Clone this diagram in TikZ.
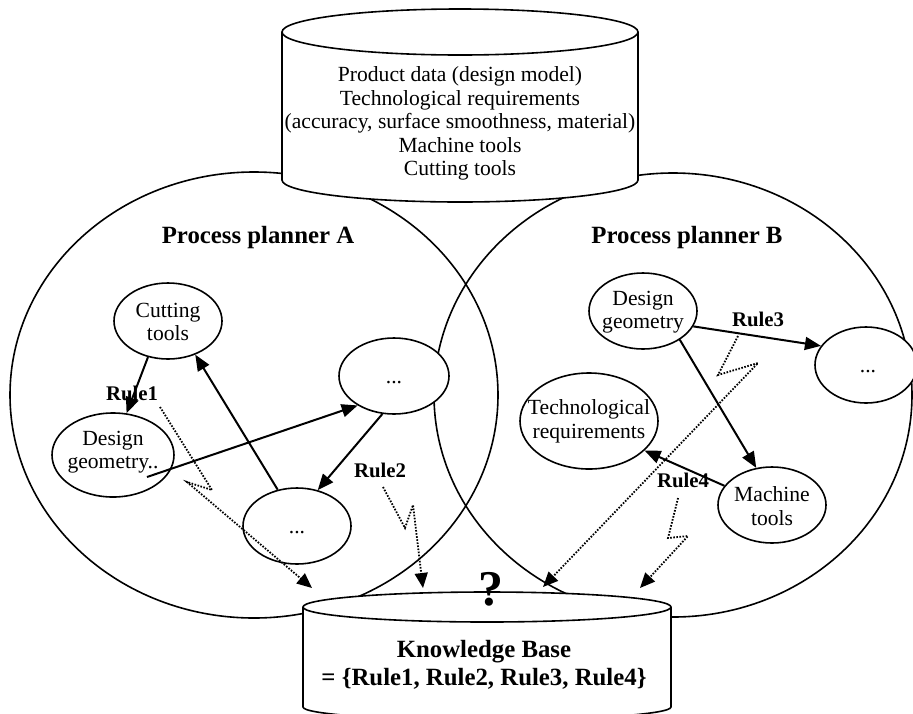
\documentclass[tikz,border=0pt]{standalone}
\usepackage{fontspec}
\setmainfont{Liberation Serif}
\usetikzlibrary{shapes.geometric,arrows.meta}
\begin{document}
\begin{tikzpicture}[x=1pt,y=-1pt,line width=1.6pt,
  big/.style={draw,ellipse,inner sep=0pt,line width=1.6pt},
  oval/.style={draw,ellipse,fill=white,inner sep=0pt,line width=1.6pt},
  txt/.style={font=\fontsize{21.6}{23.6}\selectfont,align=center,inner sep=0pt},
  dots/.style={font=\fontsize{21.6}{23.6}\selectfont,inner sep=0pt,anchor=base},
  ttl/.style={font=\bfseries\fontsize{24.8}{28}\selectfont,inner sep=0pt,anchor=base},
  kbt/.style={font=\bfseries\fontsize{24.8}{28}\selectfont,align=center,inner sep=0pt},
  rulelbl/.style={font=\bfseries\fontsize{20.8}{24}\selectfont,inner sep=0pt,anchor=base},
  arr/.style={line width=2pt,-{Triangle[length=16pt,width=13pt]}},
  dotarr/.style={line width=1.8pt,dash pattern=on 1.6pt off 1.5pt,-{Triangle[length=15pt,width=13pt]}}]
\useasboundingbox (0,0) rectangle (913,713);
\clip (0,0) rectangle (913,713);

% big process planner ellipses
\node[big,minimum width=488pt,minimum height=446pt] (PA) at (254,395) {};
\node[big,minimum width=478pt,minimum height=444pt] (PB) at (673,395) {};

% top database cylinder
\draw[fill=white] (282,32) -- (282,180) arc[start angle=180,end angle=0,x radius=178,y radius=22]
  -- (638,32) arc[start angle=0,end angle=-180,x radius=178,y radius=23] -- cycle;
\draw (282,32) arc[start angle=180,end angle=0,x radius=178,y radius=23];
\node[txt] (db) at (460,123.5) {Product data (design model)\\Technological requirements\\(accuracy, surface smoothness, material)\\Machine tools\\Cutting tools};

% bottom knowledge base cylinder
\draw[fill=white] (303,607) -- (303,707) arc[start angle=180,end angle=0,x radius=184,y radius=13]
  -- (671,607) arc[start angle=0,end angle=-180,x radius=184,y radius=15] -- cycle;
\draw (303,607) arc[start angle=180,end angle=0,x radius=184,y radius=15];
\node[kbt] (kb) at (484,665) {Knowledge Base\\= \{Rule1, Rule2, Rule3, Rule4\}};
\node[font=\bfseries\fontsize{50}{50}\selectfont,inner sep=0pt,anchor=base] (q) at (491,605) {?};

% titles
\node[ttl] (ta) at (258,243) {Process planner A};
\node[ttl] (tb) at (687,243) {Process planner B};

% small ellipses, planner A
\node[oval,minimum width=108pt,minimum height=76pt] (ct) at (168,321) {};
\node[oval,minimum width=122pt,minimum height=84pt] (dga) at (113,455) {};
\node[oval,minimum width=110pt,minimum height=76pt] (ea1) at (394,376) {};
\node[oval,minimum width=108pt,minimum height=76pt] (ea2) at (297,526) {};
% small ellipses, planner B
\node[oval,minimum width=108pt,minimum height=76pt] (dgb) at (643,311) {};
\node[oval,minimum width=102pt,minimum height=76pt] (eb1) at (866,365) {};
\node[oval,minimum width=138pt,minimum height=96pt] (tr) at (589,421) {};
\node[oval,minimum width=108pt,minimum height=76pt] (mt) at (772,505) {};

% ellipse texts
\node[txt] (ctt) at (168,322) {Cutting\\tools};
\node[txt] (dgat) at (113,452) {Design\\geometry..};
\node[dots] (ea1t) at (394,383) {...};
\node[dots] (ea2t) at (297,533) {...};
\node[txt] (dgbt) at (643,312) {Design\\geometry};
\node[dots] (eb1t) at (868,372) {...};
\node[txt] (trt) at (589,421) {Technological\\requirements};
\node[txt] (mtt) at (772,506) {Machine\\tools};

% solid arrows
\coordinate (dgs) at (147,477);
\draw[arr] (ct.241) -- (dga.72);
\draw[arr] (ea2.118) -- (ct.309);
\draw[arr] (dgs) -- (ea1.219);
\draw[arr] (ea1.253) -- (ea2.60);
\draw[arr] (dgb.343) -- (eb1.157);
\draw[arr] (dgb.322) -- (mt.113);
\draw[arr] (mt.158) -- (tr.332);

% rule labels
\node[rulelbl] (r1) at (132,400) {Rule1};
\node[rulelbl] (r2) at (380,477) {Rule2};
\node[rulelbl] (r3) at (758,326) {Rule3};
\node[rulelbl] (r4) at (683,487) {Rule4};

% dotted squiggle arrows to the knowledge base
\coordinate (r1s) at (160,407);
\coordinate (r1e) at (312,588);
\coordinate (r2s) at (383,487);
\coordinate (r2e) at (423,588);
\coordinate (r3s) at (738,336);
\coordinate (r3e) at (543,587);
\coordinate (r4s) at (678,498);
\coordinate (r4e) at (640,588);
\draw[dotarr] (r1s) -- (212,490) -- (187,482) -- (r1e);
\draw[dotarr] (r2s) -- (405,528) -- (413,505) -- (r2e);
\draw[dotarr] (r3s) -- (718,375) -- (758,363) -- (r3e);
\draw[dotarr] (r4s) -- (668,538) -- (688,536) -- (r4e);
\end{tikzpicture}
\end{document}
